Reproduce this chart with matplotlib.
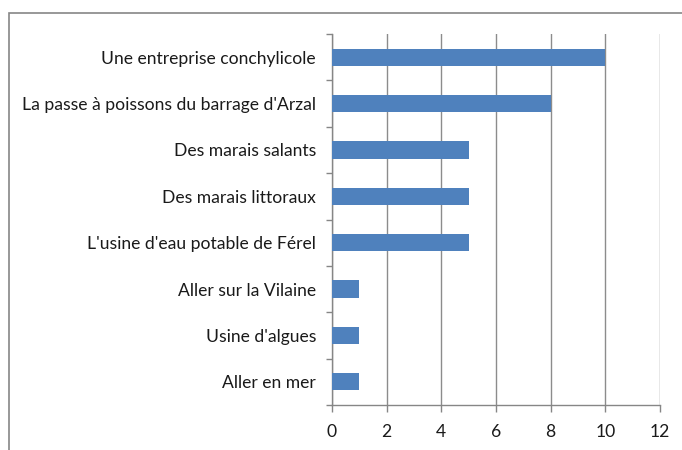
import matplotlib
matplotlib.use('Agg')
import matplotlib.pyplot as plt
from matplotlib.patches import Rectangle

categories = ["Aller en mer", "Usine d'algues", "Aller sur la Vilaine",
              "L'usine d'eau potable de Férel", "Des marais littoraux",
              "Des marais salants", "La passe à poissons du barrage d'Arzal",
              "Une entreprise conchylicole"]
values = [1, 1, 1, 5, 5, 5, 8, 10]
xticks = [0, 2, 4, 6, 8, 10, 12]

plt.rcParams['font.family'] = ['Lato', 'DejaVu Sans']
gray = '#868686'

fig = plt.figure(figsize=(6.82, 4.5), dpi=100)
# outer chart frame (only top and left visible)
fig.patches.append(Rectangle((8.5/682, -0.1), 1.2, (450-12.5)/450 + 0.1,
                             transform=fig.transFigure, fill=False,
                             edgecolor=gray, linewidth=1.2))
ax = fig.add_axes([332/682, 1-405/450, (660-332)/682, (405-34)/450])

ypos = list(range(len(categories)))
ax.barh(ypos, values, height=0.37, color='#4F81BD', zorder=3)
ax.set_xlim(0, 12)
ax.set_ylim(-0.5, len(categories)-0.5)
ax.set_xticks(xticks)
ax.set_xticklabels([str(t) for t in xticks], fontsize=12.6, color='#1a1a1a')
ax.set_yticks(ypos)
ax.set_yticklabels(categories, fontsize=12.6, color='#1a1a1a')
ax.tick_params(axis='y', length=0, pad=11.5)
ax.set_yticks([y-0.5 for y in ypos] + [len(categories)-0.5], minor=True)
ax.tick_params(axis='y', which='minor', length=4, color=gray, width=1)
ax.tick_params(axis='x', length=5, color=gray, width=1, pad=9)
ax.grid(axis='x', color='#8c8c8c', linewidth=1, zorder=0)
for s in ['top', 'right']:
    ax.spines[s].set_visible(False)
for s in ['left', 'bottom']:
    ax.spines[s].set_color(gray)
    ax.spines[s].set_linewidth(1)

fig.savefig('out.png', dpi=100)
